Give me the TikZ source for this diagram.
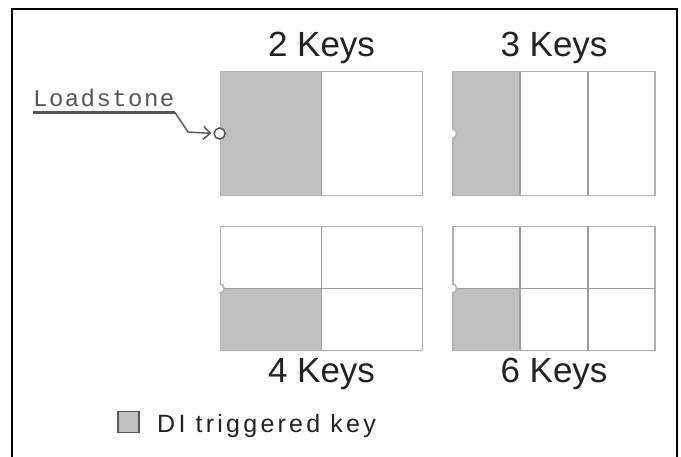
\documentclass[tikz,border=0pt]{standalone}
\usepackage{fontspec}
\setmainfont{Liberation Sans}
\newfontfamily\loadfont[LetterSpace=6]{Liberation Mono}
\newfontfamily\legfont[LetterSpace=13]{Liberation Sans}
\usepackage{xcolor}
\usepackage{tikz}
\usetikzlibrary{calc,arrows.meta}
\definecolor{ink}{HTML}{222222}
\definecolor{muted}{HTML}{555555}
\definecolor{edge}{HTML}{B0B0B0}
\definecolor{divider}{HTML}{9C9C9C}
\definecolor{keyfill}{HTML}{C0C0C0}
\tikzset{
  frame/.style={draw=black, line width=2.4pt},
  keybox/.style={draw=edge, line width=1.8pt, minimum width=202pt, minimum height=124pt, inner sep=0pt},
  divline/.style={draw=divider, line width=1.5pt},
  hot/.style={fill=keyfill},
  notch/.style={draw=edge, line width=1.5pt},
  stonedot/.style={circle, draw=muted, fill=white, line width=1.5pt, minimum size=11pt, inner sep=0pt},
  leader/.style={draw=muted, line width=1.4pt, line join=round},
  title/.style={text=ink, font=\fontsize{35}{40}\selectfont, inner sep=0pt, anchor=base},
  lab/.style={text=muted, font=\loadfont\fontsize{24}{28}\selectfont, inner sep=0pt, anchor=base west},
  legtext/.style={text=ink, font=\legfont\fontsize{25}{30}\selectfont, inner sep=0pt, anchor=base west},
  swatch/.style={fill=keyfill, draw=muted, line width=1.2pt, minimum size=21pt, inner sep=0pt},
}

\begin{document}
\begin{tikzpicture}[x=1pt,y=-1pt]
  \useasboundingbox (0,0) rectangle (681,457);
  \draw[frame] (12,460) -- (12,9) -- (677,9) -- (677,460);

  % key layouts
  \node[keybox] (two) at (321.5,133.5) {};
  \node[keybox] (three) at (554,133.5) {};
  \node[keybox] (four) at (321.5,288.5) {};
  \node[keybox] (six) at (554,288.5) {};

  \fill[hot] (two.north west) rectangle (two.south);
  \draw[divline] (two.north) -- (two.south);

  \fill[hot] (three.north west) rectangle ($(three.south west)!1/3!(three.south east)$);
  \foreach \k in {1,2}
    \draw[divline] ($(three.north west)!\k/3!(three.north east)$) -- ($(three.south west)!\k/3!(three.south east)$);

  \fill[hot] (four.west) rectangle (four.south);
  \draw[divline] (four.north) -- (four.south);
  \draw[divline] (four.west) -- (four.east);

  \fill[hot] (six.west) rectangle ($(six.south west)!1/3!(six.south east)$);
  \foreach \k in {1,2}
    \draw[divline] ($(six.north west)!\k/3!(six.north east)$) -- ($(six.south west)!\k/3!(six.south east)$);
  \draw[divline] (six.west) -- (six.east);

  \foreach \b in {two,three,four,six}
    \node[keybox] at (\b) {};

  % notches
  \foreach \b in {three,four,six} {
    \fill[white] (\b.west) circle (5);
    \draw[notch] ($(\b.west)+(0,-4.6)$) arc (-90:90:4.6);
  }

  \node[title] (t2) at (321.5,57) {2 Keys};
  \node[title] (t3) at (554,57) {3 Keys};
  \node[title] (t4) at (321.5,383) {4 Keys};
  \node[title] (t6) at (554,383) {6 Keys};

  % loadstone pointer
  \node[lab] (load) at (33,107) {Loadstone};
  \node[stonedot] (stone) at (two.west) {};
  \coordinate (ulL) at (33,112.5);
  \coordinate (ulR) at (175,112.5);
  \coordinate (bend) at (188,132);
  \draw[leader, line width=2.2pt] (ulL) -- (ulR);
  \draw[leader, -{Straight Barb[length=7pt,width=13pt]}, shorten >=2pt] (ulR) -- (bend) -- (stone.west);

  % legend
  \node[swatch] (sw) at (128.5,422) {};
  \node[legtext] (leg) at (157,432) {DI triggered key};
\end{tikzpicture}
\end{document}
